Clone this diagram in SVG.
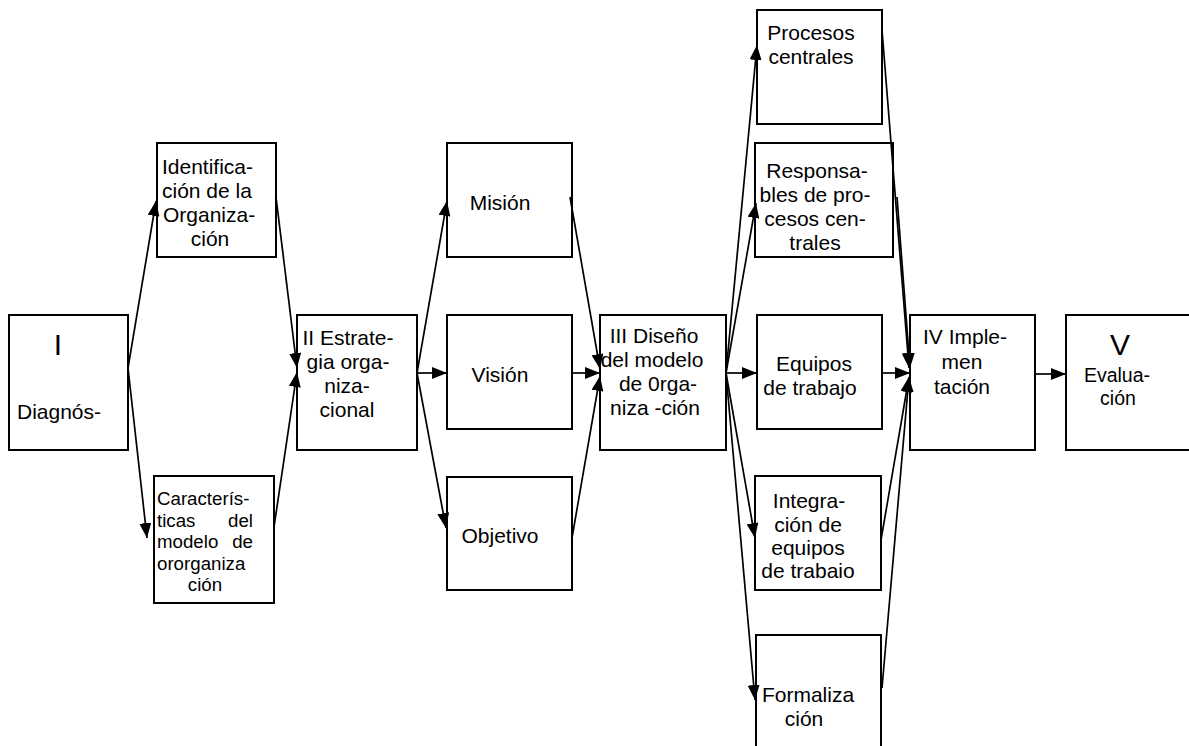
<svg xmlns="http://www.w3.org/2000/svg" width="1189" height="746" viewBox="0 0 1189 746">
<style>
.box{fill:#fff;stroke:#000;stroke-width:2}
.t{font-family:"Liberation Sans",Arial,sans-serif;font-size:21px;fill:#000}
.s{font-family:"Liberation Sans",Arial,sans-serif;font-size:18.7px;fill:#000}
.big{font-family:"Liberation Sans",Arial,sans-serif;font-size:30px;fill:#000}
.c{text-anchor:middle}
.e{text-anchor:end}
.ln{stroke:#000;stroke-width:1.7;fill:none}
.ar{marker-end:url(#ah)}
</style>
<defs>
<marker id="ah" viewBox="0 0 15 12" refX="15" refY="6" markerWidth="15" markerHeight="12" markerUnits="userSpaceOnUse" orient="auto">
<path d="M0,0 L15,6 L0,12 z" fill="#000"/>
</marker>
</defs>
<rect width="1189" height="746" fill="#fff"/>

<g id="n1">
<rect class="box" x="9" y="315" width="119" height="135"/>
<text class="big c" x="58" y="355">I</text>
<text class="t" x="17" y="419">Diagnós-</text>
</g>
<g id="n2">
<rect class="box" x="157" y="143" width="119" height="114"/>
<text class="t" x="162" y="174">Identifica-</text>
<text class="t" x="162" y="198">ción de la</text>
<text class="t" x="163" y="222">Organiza-</text>
<text class="t c" x="210" y="246">ción</text>
</g>
<g id="n3">
<rect class="box" x="154" y="476" width="120" height="127"/>
<text class="s" x="157" y="505">Caracterís-</text>
<text class="s" x="157" y="527">ticas</text>
<text class="s e" x="253" y="527">del</text>
<text class="s" x="157" y="548">modelo</text>
<text class="s e" x="253" y="548">de</text>
<text class="s" x="157" y="570">ororganiza</text>
<text class="s c" x="205" y="591">ción</text>
</g>
<g id="n4">
<rect class="box" x="297" y="315" width="120" height="135"/>
<text class="t c" x="348" y="345">II Estrate-</text>
<text class="t c" x="348" y="369">gia orga-</text>
<text class="t c" x="347" y="393">niza-</text>
<text class="t c" x="347" y="417">cional</text>
</g>
<g id="n5">
<rect class="box" x="447" y="143" width="125" height="114"/>
<text class="t c" x="500" y="210">Misión</text>
</g>
<g id="n6">
<rect class="box" x="447" y="315" width="125" height="114"/>
<text class="t c" x="500" y="382">Visión</text>
</g>
<g id="n7">
<rect class="box" x="447" y="477" width="125" height="113"/>
<text class="t c" x="500" y="543">Objetivo</text>
</g>
<g id="n8">
<rect class="box" x="600" y="315" width="126" height="135"/>
<text class="t c" x="654" y="343">III Diseño</text>
<text class="t c" x="652" y="367">del modelo</text>
<text class="t c" x="658" y="391">de 0rga-</text>
<text class="t c" x="655" y="415">niza -ción</text>
</g>
<g id="n9">
<rect class="box" x="757" y="10" width="125" height="114"/>
<text class="t c" x="811" y="40">Procesos</text>
<text class="t c" x="811" y="64">centrales</text>
</g>
<g id="n10">
<rect class="box" x="755" y="143" width="138" height="114"/>
<text class="t c" x="817" y="178">Responsa-</text>
<text class="t c" x="815" y="202">bles de pro-</text>
<text class="t c" x="815" y="226">cesos cen-</text>
<text class="t c" x="815" y="250">trales</text>
</g>
<g id="n11">
<rect class="box" x="757" y="315" width="125" height="114"/>
<text class="t c" x="814" y="371">Equipos</text>
<text class="t c" x="810" y="395">de trabajo</text>
</g>
<g id="n12">
<rect class="box" x="755" y="476" width="126" height="114"/>
<text class="t c" x="809" y="508">Integra-</text>
<text class="t c" x="808" y="532">ción de</text>
<text class="t c" x="808" y="555">equipos</text>
<text class="t c" x="808" y="578">de trabaio</text>
</g>
<g id="n13">
<rect class="box" x="756" y="635" width="125" height="130"/>
<text class="t c" x="808" y="702">Formaliza</text>
<text class="t c" x="804" y="726">ción</text>
</g>
<g id="n14">
<rect class="box" x="910" y="315" width="125" height="135"/>
<text class="t c" x="965" y="344">IV Imple-</text>
<text class="t c" x="962" y="369">men</text>
<text class="t c" x="962" y="394">tación</text>
</g>
<g id="n15">
<rect class="box" x="1066" y="315" width="124" height="135"/>
<text class="big c" x="1120" y="355">V</text>
<text class="t c" x="1117" y="382" style="font-size:19.5px">Evalua-</text>
<text class="t c" x="1118" y="405" style="font-size:19.5px">ción</text>
</g>

<g id="connectors">
<line class="ln ar" x1="128" y1="368" x2="156" y2="201"/>
<line class="ln ar" x1="128" y1="368" x2="147" y2="538"/>
<line class="ln ar" x1="276" y1="197" x2="297" y2="368"/>
<line class="ln ar" x1="274" y1="527" x2="297" y2="372"/>
<line class="ln ar" x1="417" y1="373" x2="447" y2="201"/>
<line class="ln ar" x1="417" y1="373" x2="447" y2="373"/>
<line class="ln ar" x1="417" y1="373" x2="446" y2="528"/>
<line class="ln ar" x1="570" y1="197" x2="600" y2="369"/>
<line class="ln ar" x1="572" y1="373" x2="600" y2="373"/>
<line class="ln ar" x1="572" y1="538" x2="600" y2="376"/>
<line class="ln ar" x1="726" y1="373" x2="757" y2="45"/>
<line class="ln ar" x1="726" y1="373" x2="756" y2="203"/>
<line class="ln ar" x1="726" y1="373" x2="757" y2="373"/>
<line class="ln ar" x1="726" y1="373" x2="755" y2="538"/>
<line class="ln ar" x1="726" y1="373" x2="755" y2="700"/>
<line class="ln ar" x1="882" y1="30" x2="909" y2="368"/>
<line class="ln ar" x1="897" y1="197" x2="910" y2="368"/>
<line class="ln ar" x1="882" y1="373" x2="910" y2="373"/>
<line class="ln ar" x1="881" y1="540" x2="909" y2="377"/>
<line class="ln ar" x1="882" y1="688" x2="909" y2="377"/>
<line class="ln ar" x1="1035" y1="374" x2="1066" y2="374"/>
</g>
</svg>
